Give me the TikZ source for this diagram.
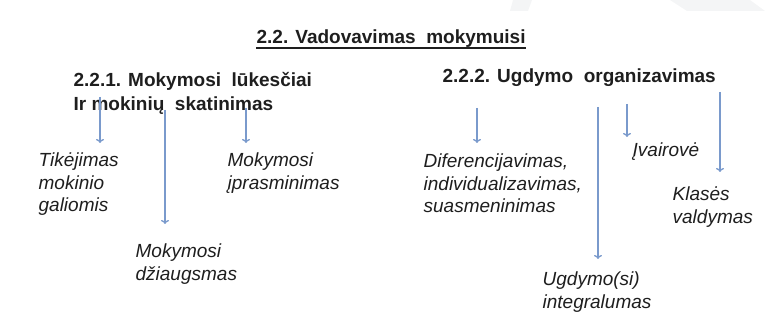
\documentclass[tikz,border=0pt]{standalone}
\usepackage{fontspec}
\setmainfont{Liberation Sans}
\usetikzlibrary{arrows.meta}
\definecolor{arrowblue}{RGB}{122,154,204}
\definecolor{inkgray}{RGB}{30,30,30}
\definecolor{slidegray}{RGB}{244,245,246}
\begin{document}
\begin{tikzpicture}[x=1pt, y=-1pt, line width=1.3pt,
  head node/.style={anchor=base west,inner sep=0pt,align=left,text=inkgray,font=\fontsize{19}{24}\selectfont\bfseries},
  item node/.style={anchor=base west,inner sep=0pt,align=left,text=inkgray,font=\fontsize{19}{22.5}\selectfont\itshape},
  arr/.style={draw=arrowblue,-{To[length=4pt,width=8pt]}}]
\useasboundingbox (0,0) rectangle (769,331);
% faint slide background
\fill[slidegray] (510,11) -- (528,11) -- (532,0) -- (513,0) -- cycle;
\fill[slidegray] (670,0) -- (687,11) -- (765,11) -- (750,0) -- cycle;
% nodes sit on the baseline of their last line
\begin{scope}
\node [head node](title) at (256,44) {2.2. Vadovavimas\ \ mokymuisi};
\node [head node](h1) at (73,111) {2.2.1. Mokymosi\ \ lūkesčiai\\Ir mokinių\ \ skatinimas};
\node [head node](h2) at (442,83) {2.2.2. Ugdymo\ \ organizavimas};
\node [item node](tik) at (38,212) {Tikėjimas\\mokinio\\galiomis};
\node [item node](ipr) at (227,189.5) {Mokymosi\\įprasminimas};
\node [item node](dzi) at (135,280.5) {Mokymosi\\džiaugsmas};
\node [item node](dif) at (423,213) {Diferencijavimas,\\individualizavimas,\\suasmeninimas};
\node [item node](ivr) at (632,157) {Įvairovė};
\node [item node](kla) at (672,223.5) {Klasės\\valdymas};
\node [item node](int) at (542,308.5) {Ugdymo(si)\\integralumas};
\end{scope}
\draw[line width=1.6pt,inkgray] ([yshift=-4]title.base west) -- ([yshift=-4]title.base east);
% arrow ends
\coordinate (a1) at (100,97);  \coordinate (a1e) at (100,143);
\coordinate (a2) at (165,110); \coordinate (a2e) at (165,224);
\coordinate (a3) at (246,108); \coordinate (a3e) at (246,143);
\coordinate (b1) at (477,108); \coordinate (b1e) at (477,143);
\coordinate (b2) at (598,107); \coordinate (b2e) at (598,259);
\coordinate (b3) at (627,104); \coordinate (b3e) at (627,137);
\coordinate (b4) at (720,92);  \coordinate (b4e) at (720,172);
\path 
	(a1) edge [arr] (a1e)
	(a2) edge [arr] (a2e)
	(a3) edge [arr] (a3e)
	(b1) edge [arr] (b1e)
	(b2) edge [arr] (b2e)
	(b3) edge [arr] (b3e)
	(b4) edge [arr] (b4e)
	;
\end{tikzpicture}
\end{document}
